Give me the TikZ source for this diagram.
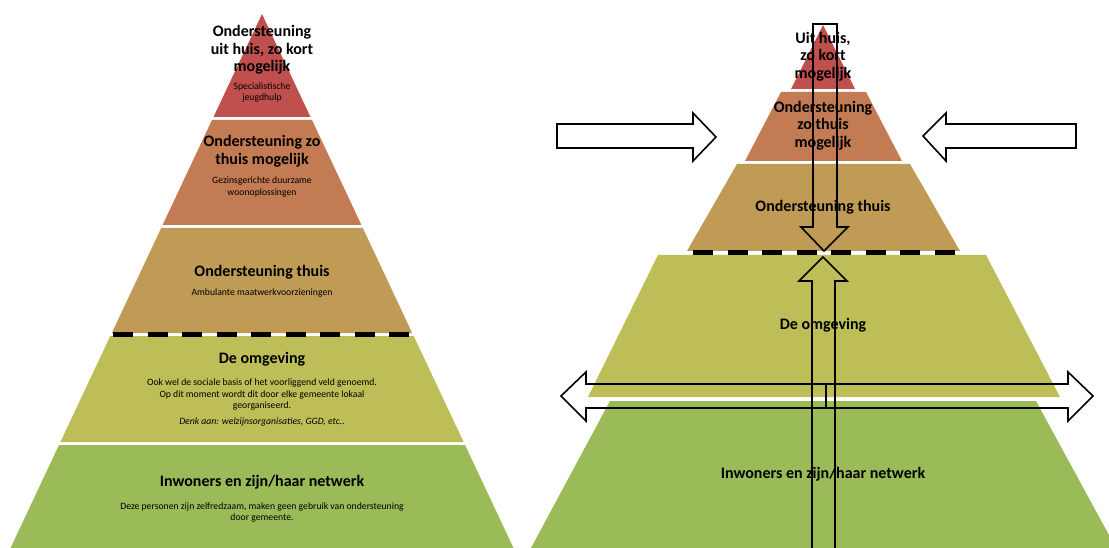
\documentclass[tikz,border=0pt]{standalone}
\usepackage{fontspec}
\setmainfont{Carlito}
\usepackage{tikz}

\definecolor{layerred}{HTML}{C0504D}
\definecolor{layerorange}{HTML}{C27B52}
\definecolor{layertan}{HTML}{BF9B55}
\definecolor{layerolive}{HTML}{BDBE57}
\definecolor{layergreen}{HTML}{9BBB59}

\begin{document}
\begin{tikzpicture}[
    x=1pt, y=-1pt, % one unit is one pixel of the reference, y runs down
    title/.style={
        align=center, % Centered lines
        inner sep=0pt,
        font=\fontsize{16}{17.5}\selectfont\bfseries % Bold heading of a layer
    },
    note/.style={
        align=center,
        inner sep=0pt,
        font=\fontsize{9.7}{11.5}\selectfont % Small explanation under a heading
    },
    blockarrow/.style={draw=black, line width=1.6pt, line join=miter}, % Open block arrows
    dashsplit/.style={line width=5pt, dash pattern=on 20pt off 14.5pt}
]
\useasboundingbox (0,0) rectangle (1109,548);
\clip (0,0) rectangle (1109,548);
\fill[white] (0,0) rectangle (1109,548);

% left pyramid
\fill[layerred]    (262,14) -- (310.5,117) -- (213.5,117) -- cycle;
\fill[layerorange] (212,120) -- (312,120) -- (361.4,225) -- (162.6,225) -- cycle;
\fill[layertan]    (161.2,228) -- (362.8,228) -- (412.2,333) -- (111.8,333) -- cycle;
\fill[layerolive]  (110.3,336) -- (413.7,336) -- (463.6,442) -- (60.4,442) -- cycle;
\fill[layergreen]  (59,445) -- (465,445) -- (513.5,548) -- (10.5,548) -- cycle;
\draw[dashsplit] (113,334.5) -- (412,334.5);

\node[title] (redL) at (262,50) {Ondersteuning\\uit huis, zo kort\\mogelijk};
\node[note]  (redLnote) at (262,92.5) {Specialistische\\jeugdhulp};
\node[title] (orangeL) at (262,151) {Ondersteuning zo\\thuis mogelijk};
\node[note]  (orangeLnote) at (262,187) {Gezinsgerichte duurzame\\woonoplossingen};
\node[title] (tanL) at (262,272) {Ondersteuning thuis};
\node[note]  (tanLnote) at (262,293) {Ambulante maatwerkvoorzieningen};
\node[title] (oliveL) at (262,359) {De omgeving};
\node[note]  (oliveLnote) at (262,394.5) {Ook wel de sociale basis of het voorliggend veld genoemd.\\Op dit moment wordt dit door elke gemeente lokaal\\georganiseerd.};
\node[note, font=\fontsize{9.7}{11.5}\selectfont\itshape] (oliveLhint) at (262,422) {Denk aan: welzijnsorganisaties, GGD, etc..};
\node[title] (greenL) at (262,482) {Inwoners en zijn/haar netwerk};
\node[note]  (greenLnote) at (262,512.5) {Deze personen zijn zelfredzaam, maken geen gebruik van ondersteuning\\door gemeente.};

% right pyramid
\fill[layerred]    (823,25) -- (855,89) -- (791,89) -- cycle;
\fill[layerorange] (781,92) -- (866,92) -- (902,161) -- (745,161) -- cycle;
\fill[layertan]    (737,164) -- (910,164) -- (960,251) -- (687,251) -- cycle;
\fill[layerolive]  (658,255) -- (986,255) -- (1060,397) -- (588,397) -- cycle;
\fill[layergreen]  (610,401) -- (1036,401) -- (1116,548) -- (531,548) -- cycle;
\draw[dashsplit] (693,253) -- (960,253);

\node[title] (redR) at (823,56.5) {Uit huis,\\zo kort\\mogelijk};
\node[title] (orangeR) at (823,125.5) {Ondersteuning\\zo thuis\\mogelijk};
\node[title] (tanR) at (823,207) {Ondersteuning thuis};
\node[title] (oliveR) at (823,325) {De omgeving};
\node[title] (greenR) at (823,474) {Inwoners en zijn/haar netwerk};

% arrows
\draw[blockarrow] (557,124) -- (693,124) -- (693,113) -- (716,137) -- (693,161)
    -- (693,148) -- (557,148) -- cycle;
\draw[blockarrow] (1076,124) -- (946,124) -- (946,113) -- (923,136) -- (946,161)
    -- (946,148) -- (1076,148) -- cycle;
\draw[blockarrow] (813,24) -- (837,24) -- (837,227) -- (848,227) -- (824,251)
    -- (801,227) -- (813,227) -- cycle;
\draw[blockarrow] (812,560) -- (812,281) -- (799,281) -- (823,257) -- (847,281)
    -- (835,281) -- (835,560);
\draw[blockarrow] (586,384) -- (1068,384) -- (1068,372) -- (1093,396) -- (1068,421)
    -- (1068,408) -- (586,408) -- (586,421) -- (561,396) -- (586,372) -- cycle;
\draw[line width=2.6pt] (826,385) -- (826,407);
\end{tikzpicture}
\end{document}
